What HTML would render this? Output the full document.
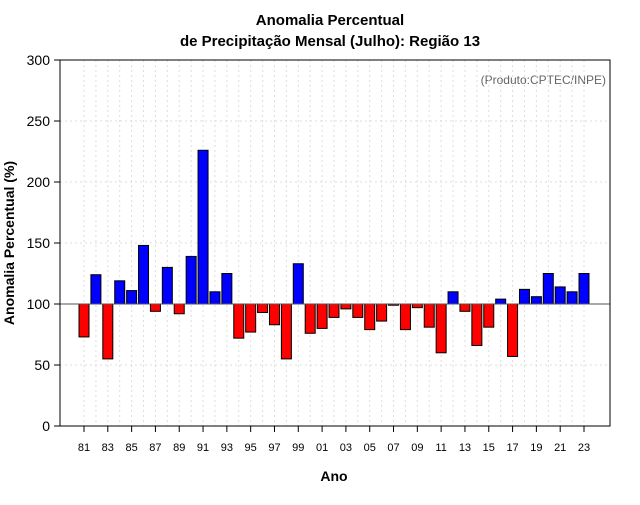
<!DOCTYPE html>
<html><head><meta charset="utf-8"><style>
body{margin:0;background:#fff;font-family:"Liberation Sans",sans-serif}
</style></head><body>
<svg id="c" width="640" height="500" xmlns="http://www.w3.org/2000/svg" font-family="Liberation Sans, sans-serif">
<text x="330" y="25" text-anchor="middle" font-size="15" font-weight="bold">Anomalia Percentual</text>
<text x="330" y="46" text-anchor="middle" font-size="15" font-weight="bold">de Precipitação Mensal (Julho): Região 13</text>
<text x="606" y="84" text-anchor="end" font-size="12" fill="#666">(Produto:CPTEC/INPE)</text>
<text x="334" y="481" text-anchor="middle" font-size="14" font-weight="bold">Ano</text>
<text transform="translate(14,243) rotate(-90)" text-anchor="middle" font-size="14" font-weight="bold">Anomalia Percentual (%)</text>
<g id="grid"></g><g id="bars"></g><g id="axes"></g>
</svg>
<script>
const years=[81,82,83,84,85,86,87,88,89,90,91,92,93,94,95,96,97,98,99,0,1,2,3,4,5,6,7,8,9,10,11,12,13,14,15,16,17,18,19,20,21,22,23];
const values=[73,124,55,119,111,148,94,130,92,139,226,110,125,72,77,93,83,55,133,76,80,89,96,89,79,86,99,79,97,81,60,110,94,66,81,104,57,112,106,125,114,110,125];
const yTicks=[0,50,100,150,200,250,300];
const NS='http://www.w3.org/2000/svg';
const L=60,R=610,T=60,B=426;
const yS=v=>B-(v/300)*(B-T);
const step=(584-84)/42;
const xS=i=>84+i*step;
function mk(t,a,p){const e=document.createElementNS(NS,t);for(const k in a)e.setAttribute(k,a[k]);p.appendChild(e);return e;}
const g=document.getElementById('grid'),b=document.getElementById('bars'),ax=document.getElementById('axes');
yTicks.forEach(v=>{if(v>0&&v<300){const l=mk('line',{x1:L,x2:R,y1:yS(v),y2:yS(v),stroke:'#ddd','stroke-dasharray':'2,3'},g);

}
const t=mk('line',{x1:L-6,x2:L,y1:yS(v),y2:yS(v),stroke:'#000'},ax);


const tx=mk('text',{x:L-10,y:yS(v)+5,'text-anchor':'end','font-size':14},ax);tx.textContent=v;

});
years.forEach((y,i)=>{const x=xS(i);
const l=mk('line',{x1:x,x2:x,y1:T,y2:B,stroke:'#ddd','stroke-dasharray':'2,3'},g);


const v=values[i];const y0=yS(100),y1=yS(v);
const r=mk('rect',{x:x-5,y:Math.min(y0,y1),width:10,height:Math.abs(y1-y0),fill:v>=100?'#0000ff':'#ff0000',stroke:'#000','stroke-width':1},b);


if(i%2==0){const t=mk('line',{x1:x,x2:x,y1:B,y2:B+6,stroke:'#000'},ax);


const tx=mk('text',{x:x,y:B+25,'text-anchor':'middle','font-size':11},ax);tx.textContent=String(y).padStart(2,'0');

}});
const ref=mk('line',{x1:L,x2:R,y1:yS(100),y2:yS(100),stroke:'#555'},ax);


const fr=mk('rect',{x:L,y:T,width:R-L,height:B-T,fill:'none',stroke:'#000'},ax);


</script>
</body></html>
